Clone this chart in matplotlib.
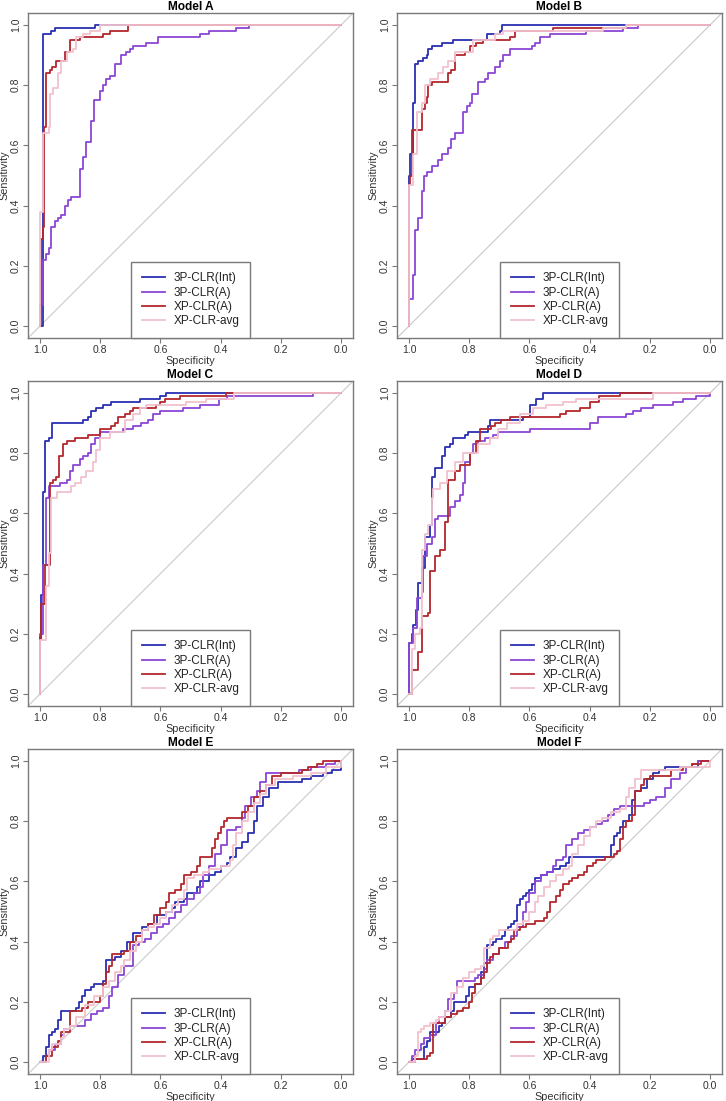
import matplotlib
matplotlib.use("Agg")
import matplotlib.pyplot as plt

plt.rcParams['font.family'] = ['Liberation Sans', 'DejaVu Sans']

series_names = ['3P-CLR(Int)', '3P-CLR(A)', 'XP-CLR(A)', 'XP-CLR-avg']
series_colors = ['#2b2fb3', '#8b46d6', '#b3282d', '#f2c2ce']
panel_titles = ['Model A', 'Model B', 'Model C', 'Model D', 'Model E', 'Model F']
tick_values = [0.0, 0.2, 0.4, 0.6, 0.8, 1.0]
tick_labels = ['0.0', '0.2', '0.4', '0.6', '0.8', '1.0']

# (specificity, sensitivity) corners of each ROC staircase
A_INT = [(1.0, 0.0), (0.99, 0.97), (0.962, 0.98), (0.951, 0.99), (0.816, 1.0), (0.0, 1.0)]
A_3P = [(1.0, 0.0), (1.0, 0.07), (0.99, 0.22), (0.979, 0.24), (0.97, 0.26), (0.962, 0.33),
        (0.951, 0.35), (0.94, 0.36), (0.929, 0.37), (0.918, 0.40), (0.907, 0.42), (0.896, 0.43),
        (0.868, 0.52), (0.857, 0.56), (0.848, 0.61), (0.83, 0.68), (0.821, 0.75), (0.802, 0.78),
        (0.791, 0.80), (0.78, 0.82), (0.769, 0.83), (0.752, 0.87), (0.73, 0.90), (0.713, 0.91),
        (0.70, 0.92), (0.691, 0.93), (0.647, 0.94), (0.608, 0.96), (0.47, 0.97), (0.437, 0.98),
        (0.348, 0.99), (0.304, 1.0), (0.0, 1.0)]
A_XP = [(1.0, 0.0), (0.996, 0.29), (0.99, 0.33), (0.987, 0.66), (0.979, 0.84), (0.968, 0.85),
        (0.959, 0.86), (0.948, 0.88), (0.918, 0.91), (0.899, 0.95), (0.868, 0.96), (0.791, 0.97),
        (0.769, 0.98), (0.708, 1.0), (0.0, 1.0)]
A_AVG = [(1.0, 0.0), (1.0, 0.38), (0.99, 0.64), (0.97, 0.66), (0.968, 0.77), (0.957, 0.79),
         (0.94, 0.84), (0.929, 0.88), (0.912, 0.91), (0.89, 0.92), (0.879, 0.96), (0.857, 0.97),
         (0.835, 0.98), (0.802, 1.0), (0.0, 1.0)]

B_INT = [(1.0, 0.0), (1.0, 0.50), (0.997, 0.57), (0.988, 0.74), (0.98, 0.87), (0.969, 0.88),
         (0.952, 0.89), (0.941, 0.90), (0.936, 0.92), (0.925, 0.93), (0.892, 0.94), (0.853, 0.95),
         (0.74, 0.97), (0.698, 0.98), (0.69, 1.0), (0.0, 1.0)]
B_3P = [(1.0, 0.0), (1.0, 0.09), (0.988, 0.17), (0.98, 0.32), (0.969, 0.36), (0.958, 0.45),
        (0.95, 0.50), (0.941, 0.51), (0.925, 0.53), (0.903, 0.55), (0.892, 0.57), (0.87, 0.59),
        (0.862, 0.62), (0.848, 0.64), (0.82, 0.71), (0.809, 0.73), (0.798, 0.74), (0.792, 0.77),
        (0.77, 0.81), (0.748, 0.82), (0.737, 0.84), (0.715, 0.86), (0.698, 0.88), (0.687, 0.90),
        (0.665, 0.92), (0.593, 0.93), (0.582, 0.94), (0.566, 0.96), (0.533, 0.97), (0.411, 0.98),
        (0.29, 0.99), (0.24, 1.0), (0.0, 1.0)]
B_XP = [(1.0, 0.0), (1.0, 0.47), (0.997, 0.50), (0.991, 0.65), (0.958, 0.72), (0.947, 0.74),
        (0.941, 0.76), (0.936, 0.80), (0.925, 0.81), (0.87, 0.84), (0.859, 0.85), (0.848, 0.90),
        (0.814, 0.91), (0.798, 0.93), (0.776, 0.94), (0.754, 0.95), (0.665, 0.96), (0.649, 0.98),
        (0.522, 0.99), (0.279, 1.0), (0.0, 1.0)]
B_AVG = [(1.0, 0.0), (1.0, 0.47), (0.986, 0.57), (0.975, 0.71), (0.958, 0.74), (0.947, 0.80),
         (0.93, 0.82), (0.903, 0.84), (0.886, 0.86), (0.87, 0.88), (0.848, 0.91), (0.787, 0.95),
         (0.715, 0.97), (0.687, 0.98), (0.356, 0.99), (0.279, 1.0), (0.0, 1.0)]

C_INT = [(1.0, 0.0), (1.0, 0.18), (0.998, 0.33), (0.99, 0.67), (0.982, 0.84), (0.97, 0.85),
         (0.959, 0.90), (0.857, 0.91), (0.841, 0.92), (0.83, 0.94), (0.813, 0.95), (0.791, 0.96),
         (0.763, 0.97), (0.669, 0.98), (0.603, 0.99), (0.581, 1.0), (0.0, 1.0)]
C_3P = [(1.0, 0.0), (1.0, 0.20), (0.99, 0.43), (0.979, 0.65), (0.97, 0.69), (0.934, 0.70),
        (0.912, 0.71), (0.902, 0.74), (0.89, 0.76), (0.868, 0.78), (0.857, 0.79), (0.841, 0.80),
        (0.83, 0.83), (0.819, 0.85), (0.802, 0.87), (0.725, 0.88), (0.691, 0.89), (0.664, 0.90),
        (0.642, 0.91), (0.625, 0.93), (0.603, 0.94), (0.525, 0.95), (0.47, 0.96), (0.404, 0.98),
        (0.38, 0.99), (0.094, 1.0), (0.0, 1.0)]
C_XP = [(1.0, 0.0), (1.0, 0.19), (0.996, 0.30), (0.985, 0.43), (0.968, 0.70), (0.957, 0.71),
        (0.948, 0.72), (0.937, 0.79), (0.924, 0.83), (0.912, 0.84), (0.885, 0.85), (0.841, 0.86),
        (0.802, 0.88), (0.763, 0.89), (0.752, 0.90), (0.741, 0.92), (0.719, 0.93), (0.702, 0.94),
        (0.691, 0.95), (0.614, 0.96), (0.603, 0.97), (0.586, 0.98), (0.536, 0.99), (0.382, 1.0),
        (0.0, 1.0)]
C_AVG = [(1.0, 0.0), (1.0, 0.18), (0.979, 0.36), (0.97, 0.47), (0.962, 0.65), (0.945, 0.67),
         (0.896, 0.69), (0.885, 0.70), (0.863, 0.72), (0.846, 0.74), (0.824, 0.77), (0.813, 0.81),
         (0.802, 0.85), (0.769, 0.87), (0.719, 0.91), (0.691, 0.93), (0.669, 0.95), (0.647, 0.96),
         (0.514, 0.97), (0.448, 0.98), (0.354, 1.0), (0.0, 1.0)]

D_INT = [(1.0, 0.0), (1.0, 0.17), (0.991, 0.20), (0.986, 0.23), (0.977, 0.28), (0.97, 0.37),
         (0.958, 0.42), (0.947, 0.52), (0.93, 0.56), (0.925, 0.72), (0.914, 0.75), (0.892, 0.79),
         (0.881, 0.82), (0.864, 0.83), (0.853, 0.85), (0.814, 0.86), (0.803, 0.87), (0.737, 0.89),
         (0.731, 0.91), (0.621, 0.92), (0.599, 0.96), (0.577, 0.98), (0.555, 1.0), (0.0, 1.0)]
D_3P = [(1.0, 0.0), (1.0, 0.17), (0.986, 0.22), (0.975, 0.32), (0.958, 0.34), (0.952, 0.46),
        (0.941, 0.50), (0.925, 0.52), (0.914, 0.58), (0.903, 0.59), (0.864, 0.62), (0.848, 0.64),
        (0.831, 0.66), (0.82, 0.70), (0.814, 0.77), (0.798, 0.80), (0.787, 0.83), (0.77, 0.84),
        (0.748, 0.85), (0.72, 0.86), (0.704, 0.87), (0.599, 0.88), (0.40, 0.90), (0.372, 0.92),
        (0.278, 0.93), (0.256, 0.94), (0.229, 0.95), (0.19, 0.96), (0.124, 0.97), (0.091, 0.98),
        (0.046, 0.99), (0.0, 1.0)]
D_XP = [(1.0, 0.0), (0.991, 0.08), (0.97, 0.14), (0.958, 0.26), (0.936, 0.27), (0.93, 0.41),
        (0.914, 0.46), (0.897, 0.48), (0.881, 0.57), (0.87, 0.71), (0.848, 0.74), (0.831, 0.76),
        (0.798, 0.80), (0.776, 0.84), (0.765, 0.88), (0.726, 0.89), (0.715, 0.90), (0.693, 0.91),
        (0.665, 0.92), (0.499, 0.93), (0.477, 0.94), (0.433, 0.95), (0.40, 0.97), (0.37, 0.99),
        (0.30, 1.0), (0.0, 1.0)]
D_AVG = [(1.0, 0.0), (0.991, 0.15), (0.98, 0.20), (0.964, 0.22), (0.958, 0.48), (0.947, 0.53),
         (0.936, 0.56), (0.925, 0.65), (0.919, 0.68), (0.897, 0.70), (0.875, 0.74), (0.848, 0.77),
         (0.82, 0.80), (0.77, 0.83), (0.731, 0.85), (0.704, 0.88), (0.676, 0.90), (0.632, 0.93),
         (0.588, 0.95), (0.544, 0.96), (0.488, 0.97), (0.444, 0.98), (0.19, 1.0), (0.0, 1.0)]

E_INT = [(1.0, 0.0), (0.99, 0.02), (0.98, 0.05), (0.97, 0.09), (0.96, 0.10), (0.95, 0.11),
         (0.94, 0.14), (0.93, 0.17), (0.88, 0.18), (0.87, 0.20), (0.86, 0.22), (0.85, 0.24),
         (0.83, 0.25), (0.82, 0.26), (0.79, 0.27), (0.78, 0.34), (0.75, 0.35), (0.73, 0.37),
         (0.71, 0.40), (0.69, 0.43), (0.66, 0.45), (0.64, 0.46), (0.61, 0.49), (0.58, 0.50),
         (0.56, 0.51), (0.55, 0.53), (0.52, 0.54), (0.51, 0.56), (0.48, 0.58), (0.47, 0.60),
         (0.44, 0.62), (0.42, 0.63), (0.40, 0.65), (0.38, 0.66), (0.37, 0.68), (0.35, 0.71),
         (0.33, 0.73), (0.31, 0.76), (0.29, 0.80), (0.28, 0.85), (0.26, 0.88), (0.24, 0.91),
         (0.21, 0.93), (0.13, 0.94), (0.10, 0.95), (0.06, 0.96), (0.03, 0.97), (0.0, 1.0)]
E_3P = [(1.0, 0.0), (0.98, 0.02), (0.97, 0.04), (0.95, 0.06), (0.93, 0.09), (0.92, 0.11),
        (0.90, 0.12), (0.87, 0.12), (0.85, 0.14), (0.83, 0.16), (0.81, 0.17), (0.79, 0.18),
        (0.77, 0.22), (0.76, 0.25), (0.74, 0.29), (0.72, 0.32), (0.69, 0.39), (0.67, 0.40),
        (0.65, 0.41), (0.63, 0.43), (0.61, 0.45), (0.59, 0.46), (0.57, 0.48), (0.55, 0.50),
        (0.53, 0.52), (0.51, 0.54), (0.49, 0.56), (0.47, 0.58), (0.46, 0.62), (0.44, 0.65),
        (0.42, 0.69), (0.40, 0.72), (0.38, 0.77), (0.35, 0.78), (0.33, 0.81), (0.32, 0.85),
        (0.30, 0.88), (0.28, 0.90), (0.27, 0.93), (0.25, 0.96), (0.14, 0.97), (0.10, 0.98),
        (0.05, 0.99), (0.02, 1.0), (0.0, 1.0)]
E_XP = [(1.0, 0.0), (0.98, 0.02), (0.96, 0.05), (0.94, 0.07), (0.93, 0.10), (0.90, 0.17),
        (0.86, 0.18), (0.84, 0.20), (0.80, 0.22), (0.79, 0.26), (0.78, 0.30), (0.77, 0.32),
        (0.76, 0.36), (0.72, 0.37), (0.70, 0.40), (0.68, 0.42), (0.66, 0.44), (0.64, 0.46),
        (0.62, 0.49), (0.60, 0.51), (0.58, 0.53), (0.57, 0.56), (0.55, 0.57), (0.53, 0.59),
        (0.52, 0.62), (0.50, 0.63), (0.48, 0.65), (0.47, 0.68), (0.44, 0.68), (0.43, 0.71),
        (0.42, 0.74), (0.41, 0.76), (0.40, 0.78), (0.39, 0.80), (0.38, 0.81), (0.35, 0.81),
        (0.33, 0.83), (0.31, 0.85), (0.29, 0.88), (0.27, 0.90), (0.25, 0.92), (0.23, 0.95),
        (0.20, 0.96), (0.13, 0.97), (0.11, 0.98), (0.08, 0.99), (0.06, 1.0), (0.0, 1.0)]
E_AVG = [(1.0, 0.0), (0.97, 0.04), (0.96, 0.06), (0.93, 0.08), (0.92, 0.11), (0.90, 0.12),
         (0.88, 0.15), (0.85, 0.19), (0.82, 0.22), (0.79, 0.25), (0.77, 0.27), (0.75, 0.30),
         (0.73, 0.32), (0.72, 0.34), (0.70, 0.37), (0.68, 0.40), (0.66, 0.44), (0.64, 0.45),
         (0.62, 0.46), (0.60, 0.48), (0.58, 0.50), (0.56, 0.52), (0.54, 0.54), (0.52, 0.57),
         (0.51, 0.61), (0.49, 0.62), (0.46, 0.63), (0.44, 0.64), (0.40, 0.65), (0.37, 0.67),
         (0.36, 0.72), (0.35, 0.76), (0.33, 0.80), (0.31, 0.83), (0.29, 0.86), (0.27, 0.89),
         (0.25, 0.92), (0.22, 0.94), (0.16, 0.95), (0.10, 0.96), (0.05, 0.98), (0.0, 1.0)]

F_INT = [(1.0, 0.0), (0.99, 0.01), (0.96, 0.01), (0.95, 0.05), (0.94, 0.07), (0.93, 0.10),
         (0.91, 0.10), (0.90, 0.12), (0.89, 0.13), (0.88, 0.15), (0.86, 0.17), (0.85, 0.20),
         (0.82, 0.20), (0.81, 0.22), (0.80, 0.25), (0.78, 0.26), (0.76, 0.30), (0.75, 0.33),
         (0.74, 0.39), (0.72, 0.40), (0.71, 0.41), (0.69, 0.42), (0.68, 0.44), (0.67, 0.45),
         (0.66, 0.46), (0.65, 0.47), (0.64, 0.52), (0.63, 0.54), (0.62, 0.55), (0.61, 0.56),
         (0.60, 0.57), (0.59, 0.59), (0.58, 0.61), (0.56, 0.62), (0.54, 0.63), (0.52, 0.64),
         (0.50, 0.65), (0.48, 0.66), (0.47, 0.68), (0.34, 0.68), (0.33, 0.72), (0.32, 0.75),
         (0.31, 0.76), (0.30, 0.78), (0.29, 0.80), (0.27, 0.82), (0.26, 0.87), (0.25, 0.90),
         (0.23, 0.91), (0.21, 0.94), (0.19, 0.96), (0.17, 0.97), (0.15, 0.98), (0.07, 0.98),
         (0.04, 1.0), (0.0, 1.0)]
F_3P = [(1.0, 0.0), (0.99, 0.02), (0.98, 0.04), (0.96, 0.06), (0.95, 0.08), (0.93, 0.09),
        (0.91, 0.13), (0.90, 0.15), (0.88, 0.17), (0.87, 0.21), (0.85, 0.23), (0.84, 0.27),
        (0.80, 0.27), (0.78, 0.28), (0.77, 0.29), (0.75, 0.31), (0.74, 0.34), (0.72, 0.36),
        (0.70, 0.38), (0.68, 0.40), (0.66, 0.42), (0.64, 0.45), (0.62, 0.50), (0.61, 0.53),
        (0.60, 0.56), (0.58, 0.60), (0.56, 0.62), (0.54, 0.63), (0.52, 0.65), (0.51, 0.67),
        (0.49, 0.68), (0.48, 0.72), (0.46, 0.74), (0.44, 0.76), (0.42, 0.77), (0.40, 0.78),
        (0.38, 0.79), (0.36, 0.80), (0.34, 0.82), (0.32, 0.84), (0.30, 0.85), (0.22, 0.86),
        (0.20, 0.87), (0.18, 0.88), (0.15, 0.91), (0.13, 0.94), (0.10, 0.96), (0.08, 0.98),
        (0.06, 0.99), (0.04, 1.0), (0.0, 1.0)]
F_XP = [(1.0, 0.0), (0.98, 0.01), (0.95, 0.01), (0.94, 0.02), (0.93, 0.03), (0.92, 0.13),
        (0.89, 0.13), (0.88, 0.15), (0.86, 0.16), (0.84, 0.17), (0.82, 0.18), (0.80, 0.20),
        (0.79, 0.23), (0.78, 0.26), (0.76, 0.28), (0.75, 0.30), (0.74, 0.33), (0.73, 0.35),
        (0.72, 0.36), (0.70, 0.38), (0.67, 0.40), (0.66, 0.41), (0.65, 0.44), (0.63, 0.45),
        (0.61, 0.46), (0.58, 0.47), (0.55, 0.48), (0.54, 0.50), (0.53, 0.53), (0.51, 0.55),
        (0.50, 0.57), (0.49, 0.59), (0.47, 0.60), (0.46, 0.61), (0.44, 0.62), (0.42, 0.63),
        (0.41, 0.65), (0.39, 0.66), (0.38, 0.67), (0.35, 0.68), (0.32, 0.69), (0.31, 0.70),
        (0.30, 0.74), (0.29, 0.78), (0.28, 0.80), (0.26, 0.82), (0.25, 0.90), (0.23, 0.92),
        (0.22, 0.94), (0.20, 0.95), (0.14, 0.95), (0.13, 0.97), (0.09, 0.98), (0.06, 0.99),
        (0.03, 1.0), (0.0, 1.0)]
F_AVG = [(1.0, 0.0), (0.98, 0.02), (0.97, 0.10), (0.96, 0.11), (0.95, 0.12), (0.93, 0.13),
         (0.91, 0.14), (0.90, 0.15), (0.88, 0.17), (0.86, 0.23), (0.84, 0.25), (0.82, 0.28),
         (0.80, 0.30), (0.78, 0.31), (0.76, 0.32), (0.75, 0.38), (0.73, 0.41), (0.72, 0.42),
         (0.70, 0.44), (0.66, 0.44), (0.64, 0.46), (0.62, 0.47), (0.60, 0.50), (0.58, 0.53),
         (0.57, 0.55), (0.55, 0.58), (0.53, 0.60), (0.51, 0.62), (0.49, 0.64), (0.47, 0.65),
         (0.46, 0.69), (0.44, 0.72), (0.42, 0.75), (0.40, 0.78), (0.38, 0.80), (0.36, 0.81),
         (0.33, 0.83), (0.30, 0.84), (0.28, 0.88), (0.27, 0.91), (0.25, 0.94), (0.23, 0.97),
         (0.15, 0.97), (0.10, 0.98), (0.05, 0.98), (0.0, 1.0)]

panel_curves = [
    [A_INT, A_3P, A_XP, A_AVG],
    [B_INT, B_3P, B_XP, B_AVG],
    [C_INT, C_3P, C_XP, C_AVG],
    [D_INT, D_3P, D_XP, D_AVG],
    [E_INT, E_3P, E_XP, E_AVG],
    [F_INT, F_3P, F_XP, F_AVG],
]

W, H = 726, 1101
fig = plt.figure(figsize=(W / 100, H / 100), dpi=100, facecolor='white')

col_left = [28, 397]
row_top = [13, 381, 749]
box_w, box_h = 325, 325
edge = '#7a7a7a'

for i, curves in enumerate(panel_curves):
    r, c = divmod(i, 2)
    ax = fig.add_axes([col_left[c] / W, 1 - (row_top[r] + box_h) / H, box_w / W, box_h / H])
    ax.axline((1.0, 0.0), (0.0, 1.0), color='#c9c9c9', lw=0.8, zorder=1)
    for pts, name, col in zip(curves, series_names, series_colors):
        xs = [p[0] for p in pts]
        ys = [p[1] for p in pts]
        ax.step(xs, ys, where='post', color=col, lw=1.3, label=name, zorder=2)
    ax.set_xlim(1.04, -0.04)
    ax.set_ylim(-0.04, 1.04)
    ax.set_xticks(tick_values)
    ax.set_xticklabels(tick_labels)
    ax.set_yticks(tick_values)
    ax.set_yticklabels(tick_labels, rotation=90, va='center')
    ax.tick_params(direction='out', length=3.5, width=0.8, color=edge,
                   labelsize=7.5, labelcolor='#333333', pad=1.5)
    for s in ax.spines.values():
        s.set_color(edge)
        s.set_linewidth(1.0)
    ax.set_xlabel('Specificity', fontsize=7.8, color='#333333', labelpad=0.5)
    ax.set_ylabel('Sensitivity', fontsize=7.8, color='#333333', labelpad=1.5)
    ax.set_title(panel_titles[i], fontsize=8.6, fontweight='bold', pad=2.5)
    leg = ax.legend(loc='lower center', bbox_to_anchor=(0.5, 0.0), borderaxespad=0,
                    fancybox=False, framealpha=1, edgecolor=edge, fontsize=8.5,
                    handlelength=2.0, handletextpad=0.7, labelspacing=0.2, borderpad=0.9)
    leg.get_frame().set_linewidth(1.0)
    for t in leg.get_texts():
        t.set_color('#222222')

fig.savefig('out.png', dpi=100, facecolor='white')
